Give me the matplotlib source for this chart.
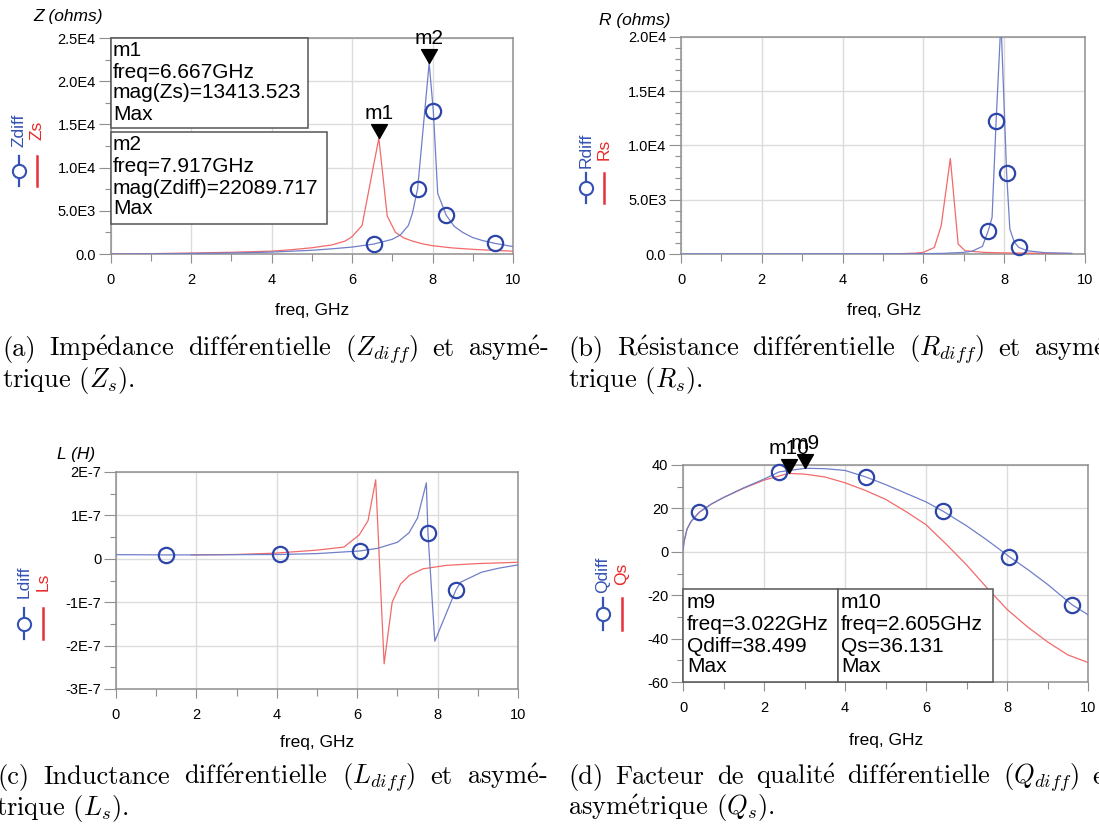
import matplotlib
matplotlib.use("Agg")
import matplotlib.pyplot as plt
from matplotlib.lines import Line2D
from matplotlib.patches import Rectangle
from matplotlib.path import Path

plt.rcParams['font.family'] = ['Liberation Sans', 'DejaVu Sans']
plt.rcParams['mathtext.fontset'] = 'cm'

# ---------------- data ----------------
x_ticks = [0, 2, 4, 6, 8, 10]
x_ticklabels = ['0', '2', '4', '6', '8', '10']

# (a) impedance
zs_f = [0.0, 1.0, 2.0, 3.0, 4.0, 4.5, 5.0, 5.5, 5.83, 6.0, 6.25, 6.667, 6.875, 7.08, 7.29, 7.5, 7.75, 8.0, 8.5, 9.0, 9.5, 10.0]
zs_v = [0, 40, 110, 200, 330, 500, 720, 1050, 1500, 2000, 3300, 13413.523, 4400, 2500, 1850, 1500, 1180, 960, 700, 540, 420, 330]
zdiff_f = [0.0, 1.0, 2.0, 3.0, 4.0, 5.0, 5.5, 6.0, 6.54, 7.0, 7.2, 7.4, 7.5, 7.63, 7.917, 8.02, 8.13, 8.34, 8.54, 8.75, 9.0, 9.25, 9.55, 10.0]
zdiff_v = [0, 20, 60, 120, 220, 430, 600, 800, 1150, 1700, 2200, 3300, 4700, 7550, 22089.717, 16560, 7000, 4490, 3200, 2500, 1900, 1550, 1230, 860]
zdiff_circles = [8, 13, 15, 17, 22]
z_yticks = [0, 5000, 10000, 15000, 20000, 25000]
z_yticklabels = ['0.0', '5.0E3', '1.0E4', '1.5E4', '2.0E4', '2.5E4']

# (b) resistance
rs_f = [5.28, 5.5, 5.8, 6.0, 6.27, 6.44, 6.667, 6.86, 7.03, 7.5, 8.0, 9.0, 9.67]
rs_v = [20, 40, 80, 150, 600, 2600, 8800, 920, 300, 150, 100, 60, 40]
rdiff_f = [0.0, 2.0, 4.0, 6.0, 6.5, 7.0, 7.2, 7.46, 7.6, 7.7, 7.8, 7.92, 8.06, 8.14, 8.25, 8.36, 8.57, 9.0, 9.67]
rdiff_v = [0, 5, 10, 30, 60, 150, 250, 700, 2090, 3370, 12270, 21500, 7420, 2300, 1100, 610, 300, 120, 60]
rdiff_circles = [8, 10, 12, 15]
r_yticks = [0, 5000, 10000, 15000, 20000]
r_yticklabels = ['0.0', '5.0E3', '1.0E4', '1.5E4', '2.0E4']

# (c) inductance (values in units of 1e-7 H)
ls_f = [1.87, 3.0, 3.96, 5.0, 5.67, 6.05, 6.27, 6.46, 6.67, 6.87, 7.08, 7.3, 7.64, 8.23, 9.0, 10.0]
ls_v = [0.09, 0.1, 0.13, 0.2, 0.27, 0.55, 0.88, 1.82, -2.42, -1.0, -0.58, -0.38, -0.23, -0.15, -0.11, -0.08]
ldiff_f = [0.0, 1.25, 2.0, 3.0, 4.09, 5.0, 6.06, 6.5, 7.0, 7.29, 7.5, 7.72, 7.76, 7.93, 8.45, 8.57, 9.09, 9.5, 10.0]
ldiff_v = [0.095, 0.09, 0.09, 0.095, 0.1, 0.12, 0.18, 0.24, 0.38, 0.6, 0.94, 1.75, 0.59, -1.9, -0.73, -0.54, -0.31, -0.22, -0.14]
ldiff_circles = [1, 4, 6, 12, 14]
l_yticks = [-3, -2, -1, 0, 1, 2]
l_yticklabels = ['-3E-7', '-2E-7', '-1E-7', '0', '1E-7', '2E-7']

# (d) quality factor
qdiff_f = [0.0, 0.03, 0.1, 0.2, 0.4, 0.7, 1.0, 1.5, 2.0, 2.37, 3.022, 3.5, 4.0, 4.51, 5.0, 5.5, 6.0, 6.43, 7.0, 7.5, 8.06, 8.5, 9.0, 9.6, 10.0]
qdiff_v = [1.0, 5.0, 10.5, 14.0, 18.2, 22.0, 25.0, 29.5, 33.5, 36.8, 38.499, 38.3, 37.5, 34.5, 31.0, 27.0, 23.0, 18.6, 12.0, 5.5, -2.3, -8.0, -15.0, -24.3, -29.0]
qdiff_circles = [4, 9, 13, 17, 20, 23]
qs_f = [0.0, 0.03, 0.1, 0.2, 0.4, 0.7, 1.0, 1.5, 2.0, 2.605, 3.0, 3.5, 4.0, 4.5, 5.0, 5.5, 6.0, 6.5, 7.0, 7.5, 8.0, 8.5, 9.0, 9.5, 10.0]
qs_v = [1.0, 5.0, 10.5, 14.0, 18.2, 22.0, 25.0, 29.3, 33.0, 36.131, 35.8, 34.5, 31.8, 28.3, 24.2, 18.6, 12.5, 3.5, -6.0, -16.5, -26.5, -34.5, -41.5, -47.5, -51.0]
q_yticks = [-60, -40, -20, 0, 20, 40]
q_yticklabels = ['-60', '-40', '-20', '0', '20', '40']

# captions (first line justified, second line ragged)
EA = r"$\acute{\mathrm{e}}$"
cap_a1 = ["(a)", "Imp" + EA + "dance", "diff" + EA + "rentielle", r"($Z_{diff}$)", "et", "asym" + EA + "-"]
cap_a2 = r"trique ($Z_s$)."
cap_b1 = ["(b)", "R" + EA + "sistance", "diff" + EA + "rentielle", r"($R_{diff}$)", "et", "asym" + EA + "-"]
cap_b2 = r"trique ($R_s$)."
cap_c1 = ["(c)", "Inductance", "diff" + EA + "rentielle", r"($L_{diff}$)", "et", "asym" + EA + "-"]
cap_c2 = r"trique ($L_s$)."
cap_d1 = ["(d)", "Facteur", "de", "qualit" + EA, "diff" + EA + "rentielle", r"($Q_{diff}$)", "et"]
cap_d2 = "asym" + EA + r"trique ($Q_s$)."

# ---------------- style ----------------
W, H = 1099, 824
BLUE = '#6f7fc9'
BLUE_M = '#2c45a8'
RED = '#f26a6a'
RED_L = '#e8303a'
GRID = '#dcdcdc'
FRAME = '#8f8f8f'

fig = plt.figure(figsize=(W / 100, H / 100), dpi=100)


def fx(x):
    return x / W


def fy(y):
    return 1 - y / H


def add_ax(L, T, w, h):
    return fig.add_axes([L / W, 1 - (T + h) / H, w / W, h / H])


def style(ax, ylim, yt, ytl, yminor):
    ax.set_xlim(0, 10)
    ax.set_ylim(*ylim)
    ax.set_xticks(x_ticks)
    ax.set_xticklabels(x_ticklabels)
    ax.set_xticks([1, 3, 5, 7, 9], minor=True)
    ax.set_yticks(yt)
    ax.set_yticklabels(ytl)
    ax.set_yticks(yminor, minor=True)
    ax.grid(True, which='major', color=GRID, lw=1.0)
    ax.set_axisbelow(True)
    for s in ax.spines.values():
        s.set_color(FRAME)
        s.set_linewidth(1.1)
    ax.tick_params(axis='y', which='major', length=8.6, width=0.8, color=FRAME, pad=2, labelsize=10.5)
    ax.tick_params(axis='y', which='minor', length=4.3, width=0.8, color=FRAME)
    ax.tick_params(axis='x', which='major', length=6.5, width=0.8, color=FRAME, pad=7, labelsize=10.5)
    ax.tick_params(axis='x', which='minor', length=5, width=0.8, color=FRAME)


def legend(xb, xr, ytxt_b, ytxt_r, lab_b, lab_r, ysym0, ysym1):
    fig.text(fx(xb), fy(ytxt_b), lab_b, rotation=90, color='#3552b5', fontsize=12.5, ha='center', va='center')
    fig.text(fx(xr), fy(ytxt_r), lab_r, rotation=90, color='#ea2a2a', fontsize=12.5, ha='center', va='center')
    fig.add_artist(Line2D([fx(xb), fx(xb)], [fy(ysym0), fy(ysym1)], color='#3552b5', lw=1.6, transform=fig.transFigure))
    fig.add_artist(Line2D([fx(xb)], [fy((ysym0 + ysym1) / 2)], marker='o', ms=9.5, mfc='white', mec='#3552b5', mew=1.5, transform=fig.transFigure))
    fig.add_artist(Line2D([fx(xr), fx(xr)], [fy(ysym0), fy(ysym1)], color=RED_L, lw=1.8, transform=fig.transFigure))


def box(x0, y0, x1, y1, lines, tx, ty):
    fig.add_artist(Rectangle((fx(x0), fy(y1)), (x1 - x0) / W, (y1 - y0) / H, transform=fig.transFigure,
                             facecolor='white', edgecolor='#555555', lw=1.1, zorder=5))
    for s, yy in zip(lines, ty):
        fig.text(fx(tx), fy(yy), s, fontsize=15, ha='left', va='center', zorder=6)


TRI = Path([(0, 0), (-0.57, 1), (0.57, 1), (0, 0)], [Path.MOVETO, Path.LINETO, Path.LINETO, Path.CLOSEPOLY])


def marker(ax, x, y, name):
    ax.plot([x], [y], marker=TRI, ms=20, color='black', clip_on=False, zorder=7, ls='none')
    ax.annotate(name, xy=(x, y), xytext=(0, 18), textcoords='offset points', ha='center', va='center',
                fontsize=15, annotation_clip=False, zorder=7)


def curve(ax, f, v, circles=None, color=BLUE):
    ax.plot(f, v, color=color, lw=0.9, zorder=3)
    if circles is not None:
        ax.plot([f[i] for i in circles], [v[i] for i in circles], ls='none', marker='o', ms=11,
                mfc='none', mec=BLUE_M, mew=1.6, zorder=4, clip_on=False)


def xlabel(xc, yc):
    fig.text(fx(xc), fy(yc), 'freq, GHz', fontsize=12.5, ha='center', va='center')


# ---------------- (a) ----------------
axa = add_ax(110.5, 38, 402.5, 216)
style(axa, (0, 25000), z_yticks, z_yticklabels, [2500, 7500, 12500, 17500, 22500])
curve(axa, zs_f, zs_v, color=RED)
curve(axa, zdiff_f, zdiff_v, zdiff_circles)
marker(axa, 6.667, 13413.523, 'm1')
marker(axa, 7.917, 22089.717, 'm2')
fig.text(fx(103), fy(17), 'Z (ohms)', fontsize=12.5, style='italic', ha='right', va='center')
xlabel(312, 310)
legend(19, 37, 130, 130, 'Zdiff', 'Zs', 156, 186)
box(110.5, 38, 308, 128, ['m1', 'freq=6.667GHz', 'mag(Zs)=13413.523', 'Max'], 113, [50, 72, 93, 115])
box(110.5, 132, 327, 224, ['m2', 'freq=7.917GHz', 'mag(Zdiff)=22089.717', 'Max'], 113, [145, 167, 188, 209])

# ---------------- (b) ----------------
axb = add_ax(681, 37, 404, 217)
style(axb, (0, 20000), r_yticks, r_yticklabels, [v * 1000 for v in range(1, 20) if v % 5])
curve(axb, rs_f, rs_v, color=RED)
curve(axb, rdiff_f, rdiff_v, rdiff_circles)
fig.text(fx(670), fy(20), 'R (ohms)', fontsize=12.5, style='italic', ha='right', va='center')
xlabel(884, 310)
legend(586, 604, 150, 149, 'Rdiff', 'Rs', 173, 203)

# ---------------- (c) ----------------
axc = add_ax(116, 472, 402, 217)
style(axc, (-3, 2), l_yticks, l_yticklabels, [-2.5, -1.5, -0.5, 0.5, 1.5])
curve(axc, ls_f, ls_v, color=RED)
curve(axc, ldiff_f, ldiff_v, ldiff_circles)
fig.text(fx(95), fy(454), 'L (H)', fontsize=12.5, style='italic', ha='right', va='center')
xlabel(317, 743)
legend(24, 43, 582, 582, 'Ldiff', 'Ls', 608, 639)

# ---------------- (d) ----------------
axd = add_ax(683, 465, 405, 217)
style(axd, (-60, 40), q_yticks, q_yticklabels, [-50, -30, -10, 10, 30])
curve(axd, qs_f, qs_v, color=RED)
curve(axd, qdiff_f, qdiff_v, qdiff_circles)
marker(axd, 2.605, 36.131, 'm10')
marker(axd, 3.022, 38.499, 'm9')
xlabel(886, 740)
legend(603, 622, 575, 574, 'Qdiff', 'Qs', 598, 630)
box(683, 589, 838, 682, ['m9', 'freq=3.022GHz', 'Qdiff=38.499', 'Max'], 687, [603, 624, 646, 667])
box(838, 589, 993, 682, ['m10', 'freq=2.605GHz', 'Qs=36.131', 'Max'], 841, [603, 624, 646, 667])

# ---------------- captions ----------------
CAP = dict(fontsize=19, family=['cmr10'], ha='left', va='baseline')
renderer = fig.canvas.get_renderer()


def justified(words, x0, x1, yb):
    texts = [fig.text(fx(x0), fy(yb), w, **CAP) for w in words]
    widths = [t.get_window_extent(renderer).width for t in texts]
    gap = (x1 - x0 - sum(widths)) / (len(words) - 1)
    x = x0
    for t, w in zip(texts, widths):
        t.set_x(fx(x))
        x += w + gap


justified(cap_a1, 2, 548, 356)
fig.text(fx(2), fy(387), cap_a2, **CAP)
justified(cap_b1, 568, 1114, 356)
fig.text(fx(568), fy(387), cap_b2, **CAP)
justified(cap_c1, -3, 547, 784)
fig.text(fx(-4), fy(815), cap_c2, **CAP)
justified(cap_d1, 568, 1114, 784)
fig.text(fx(568), fy(815), cap_d2, **CAP)

fig.savefig('out.png', dpi=100)
